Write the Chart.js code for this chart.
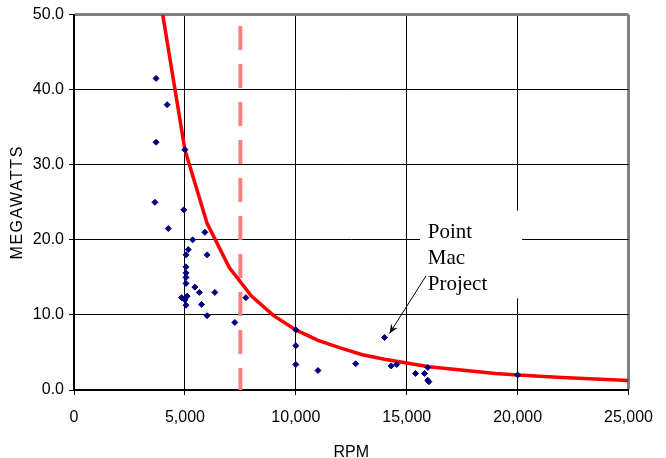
<!DOCTYPE html>
<html>
<head>
<meta charset="utf-8">
<script src="https://cdn.jsdelivr.net/npm/chart.js@4.4.1/dist/chart.umd.min.js"></script>
<style>
  html, body { margin: 0; padding: 0; background: #fff; }
  canvas { display: block; }
</style>
</head>
<body>
<canvas id="rpmChart" width="666" height="458"></canvas>
<script>
// measured plants: speed vs output
const plantRpm = [3700, 4200, 3700, 5000, 3650, 4950, 4250, 5900, 5350, 5150,
                  5050, 6000, 5050, 5050, 5050, 5050, 5450, 5650, 6350, 4850,
                  5100, 5000, 5050, 5750, 7750, 6000, 7250, 10000, 10000, 10000,
                  11000, 12700, 14000, 14300, 14550, 15400, 15800, 15950, 15950, 16000,
                  20000];
const plantMw  = [41.5, 38.0, 33.0, 32.0, 25.0, 24.0, 21.5, 21.0, 20.0, 18.7,
                  18.0, 18.0, 16.4, 15.6, 15.0, 14.2, 13.7, 13.0, 13.0, 12.3,
                  12.5, 12.0, 11.3, 11.4, 12.3, 9.9, 9.0, 8.0, 5.9, 3.4,
                  2.6, 3.5, 7.0, 3.2, 3.4, 2.2, 2.2, 3.0, 1.3, 1.1,
                  2.0];

// red trend curve
const fitRpm = [4000, 5000, 6000, 7000, 8000, 9000, 10000, 11000, 12000, 13000,
                14000, 15000, 16000, 17000, 18000, 19000, 20000, 22000, 25000];
const fitMw  = [50, 32, 22.2, 16.3, 12.5, 9.9, 8.0, 6.6, 5.6, 4.7,
                4.1, 3.6, 3.1, 2.8, 2.5, 2.2, 2.0, 1.65, 1.28];

// dashed limit line
const limitRpm = [7500, 7500];
const limitMw  = [0, 50];

// Point Mac callout
const calloutLines = ['Point', 'Mac', 'Project'];
const calloutTarget = { x: 14000, y: 7.0 };

const xMax = 25000, xStep = 5000;
const yMax = 50, yStep = 10;

function toPoints(xs, ys) {
  return xs.map((x, i) => ({ x: x, y: ys[i] }));
}

const yTitlePlugin = {
  id: 'yTitle',
  afterDraw(chart) {
    const { ctx, chartArea } = chart;
    ctx.save();
    ctx.translate(18, (chartArea.top + chartArea.bottom) / 2);
    ctx.rotate(-Math.PI / 2);
    ctx.font = '16px "Liberation Sans", Arial, sans-serif';
    ctx.letterSpacing = '1.5px';
    ctx.fillStyle = '#000';
    ctx.textAlign = 'center';
    ctx.textBaseline = 'middle';
    ctx.fillText('MEGAWATTS', 0, 0);
    ctx.restore();
  }
};

const calloutPlugin = {
  id: 'callout',
  afterDraw(chart) {
    const { ctx } = chart;
    const xs = chart.scales.x, ys = chart.scales.y;
    // box + text sit up and right of the target point
    const left = xs.getPixelForValue(15600), right = xs.getPixelForValue(20200);
    const top = ys.getPixelForValue(23.9), bottom = ys.getPixelForValue(12.2);
    ctx.save();
    ctx.fillStyle = '#fff';
    ctx.fillRect(left, top, right - left, bottom - top);

    ctx.font = '21px "Liberation Serif", "Times New Roman", serif';
    ctx.fillStyle = '#000';
    ctx.textBaseline = 'alphabetic';
    const tx = xs.getPixelForValue(15950);
    calloutLines.forEach((s, i) => {
      ctx.fillText(s, tx, ys.getPixelForValue(20.3) + i * 26);
    });

    // arrow
    const sx = xs.getPixelForValue(15870), sy = ys.getPixelForValue(15.2);
    const ex = xs.getPixelForValue(calloutTarget.x) + 5, ey = ys.getPixelForValue(calloutTarget.y) - 4;
    ctx.strokeStyle = '#000';
    ctx.lineWidth = 1;
    ctx.beginPath();
    ctx.moveTo(sx, sy);
    ctx.lineTo(ex, ey);
    ctx.stroke();
    const a = Math.atan2(ey - sy, ex - sx);
    ctx.beginPath();
    ctx.moveTo(ex, ey);
    ctx.lineTo(ex - 10 * Math.cos(a - 0.4), ey - 10 * Math.sin(a - 0.4));
    ctx.lineTo(ex - 6 * Math.cos(a), ey - 6 * Math.sin(a));
    ctx.lineTo(ex - 10 * Math.cos(a + 0.4), ey - 10 * Math.sin(a + 0.4));
    ctx.closePath();
    ctx.fill();
    ctx.restore();
  }
};

const tickFont = { family: '"Liberation Sans", Arial, sans-serif', size: 16 };

new Chart(document.getElementById('rpmChart'), {
  type: 'scatter',
  data: {
    datasets: [
      {
        label: 'Plants',
        data: toPoints(plantRpm, plantMw),
        pointStyle: 'rectRot',
        pointRadius: 3,
        pointBorderWidth: 1,
        backgroundColor: '#000080',
        borderColor: '#000080',
        showLine: false
      },
      {
        label: 'Trend',
        data: toPoints(fitRpm, fitMw),
        showLine: true,
        borderColor: '#ff0000',
        borderWidth: 3.5,
        pointRadius: 0,
        fill: false
      },
      {
        label: 'Limit',
        data: toPoints(limitRpm, limitMw),
        showLine: true,
        borderColor: '#ff8080',
        borderWidth: 4,
        borderDash: [24, 14],
        borderDashOffset: 2,
        borderCapStyle: 'butt',
        pointRadius: 0,
        fill: false
      }
    ]
  },
  options: {
    responsive: false,
    animation: false,
    devicePixelRatio: 1,
    layout: { padding: { top: 14, right: 36, left: 0, bottom: 0 } },
    plugins: {
      legend: { display: false },
      tooltip: { enabled: false }
    },
    scales: {
      x: {
        type: 'linear',
        min: 0, max: xMax,
        ticks: {
          stepSize: xStep,
          color: '#000',
          font: tickFont,
          padding: 13,
          maxRotation: 0,
          callback: v => v.toLocaleString('en-US')
        },
        grid: {
          color: c => c.tick && c.tick.value === xMax ? '#808080' : '#000',
          lineWidth: c => c.tick && c.tick.value === xMax ? 3 : 1,
          tickColor: '#000',
          tickWidth: 1,
          tickLength: 5
        },
        border: { color: '#000', width: 2 },
        title: {
          display: true,
          text: 'RPM',
          color: '#000',
          font: tickFont,
          padding: { top: 0, bottom: -4 }
        },
        afterFit: s => { s.height = 68; }
      },
      y: {
        type: 'linear',
        min: 0, max: yMax,
        ticks: {
          stepSize: yStep,
          color: '#000',
          font: tickFont,
          padding: 5,
          callback: v => v.toFixed(1)
        },
        grid: {
          color: c => c.tick && c.tick.value === yMax ? '#808080' : '#000',
          lineWidth: c => c.tick && c.tick.value === yMax ? 3 : 1,
          tickColor: '#000',
          tickWidth: 1,
          tickLength: 5
        },
        border: { color: '#000', width: 2 },
        afterFit: s => { s.width = 74; }
      }
    }
  },
  plugins: [yTitlePlugin, calloutPlugin]
});
</script>
</body>
</html>
